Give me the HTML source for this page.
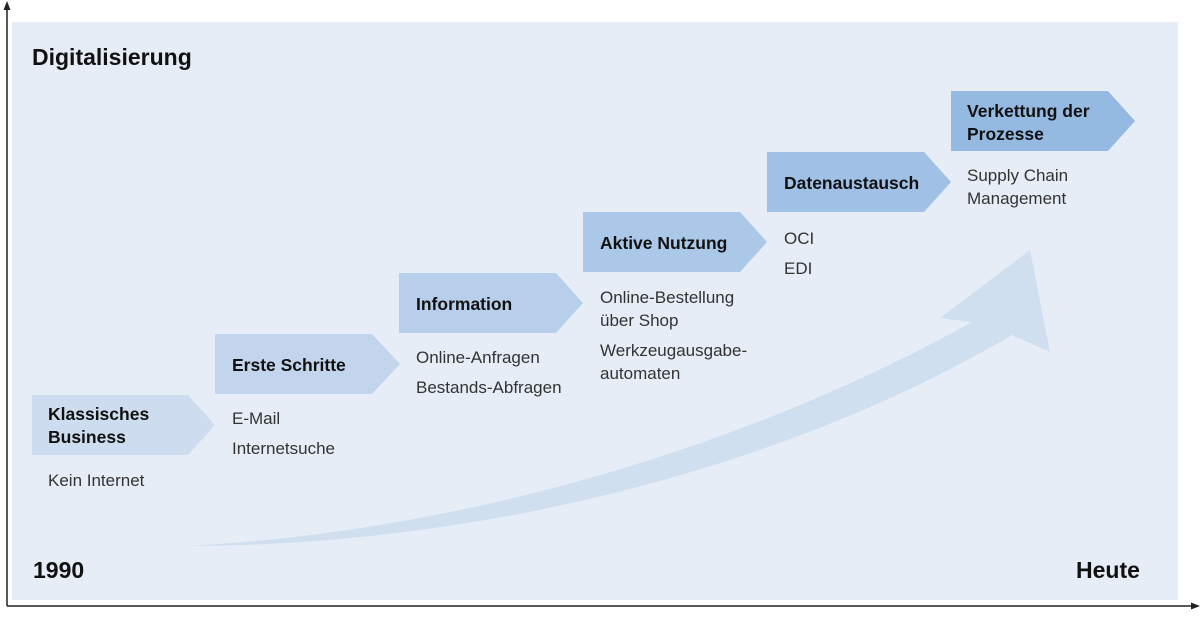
<!DOCTYPE html>
<html><head><meta charset="utf-8"><style>
html,body{margin:0;padding:0;background:#fff;}
svg{display:block;}
.t{font-family:"Liberation Sans",sans-serif;font-weight:bold;font-size:17.5px;fill:#111;}
.b{font-family:"Liberation Sans",sans-serif;font-size:17px;fill:#333;}
.h{font-family:"Liberation Sans",sans-serif;font-weight:bold;font-size:23px;fill:#111;}
</style></head><body>
<svg width="1200" height="623" viewBox="0 0 1200 623" xmlns="http://www.w3.org/2000/svg">
<rect x="12" y="22" width="1166" height="578" fill="#e6edf6"/>
<line x1="7" y1="6" x2="7" y2="606" stroke="#222" stroke-width="1.5"/>
<polygon points="7,1 3.5,10 10.5,10" fill="#222"/>
<line x1="7" y1="606" x2="1194" y2="606" stroke="#222" stroke-width="1.5"/>
<polygon points="1200,606 1191,602.5 1191,609.5" fill="#222"/>
<path d="M188,546 C500,545 800,460 1012,335 L1050,352 L1030,250 L940,318 L972,322 C760,440 480,530 188,546 Z" fill="#cfdff0"/>
<polygon points="32,395 188,395 215,425 188,455 32,455" fill="#cddcef"/>
<polygon points="215,334 372,334 400,364 372,394 215,394" fill="#c2d5ed"/>
<polygon points="399,273 556,273 583,303 556,333 399,333" fill="#b7cfeb"/>
<polygon points="583,212 740,212 767,242 740,272 583,272" fill="#abc8e8"/>
<polygon points="767,152 924,152 951,182 924,212 767,212" fill="#a0c1e5"/>
<polygon points="951,91 1108,91 1135,121 1108,151 951,151" fill="#95bae2"/>
<text class="h" x="32" y="65">Digitalisierung</text>
<text class="h" x="33" y="578">1990</text>
<text class="h" x="1076" y="578">Heute</text>
<text class="t" x="48" y="420">Klassisches</text>
<text class="t" x="48" y="443">Business</text>
<text class="t" x="232" y="371">Erste Schritte</text>
<text class="t" x="416" y="310">Information</text>
<text class="t" x="600" y="249">Aktive Nutzung</text>
<text class="t" x="784" y="189">Datenaustausch</text>
<text class="t" x="967" y="117">Verkettung der</text>
<text class="t" x="967" y="140">Prozesse</text>
<text class="b" x="48" y="486">Kein Internet</text>
<text class="b" x="232" y="424">E-Mail</text>
<text class="b" x="232" y="454">Internetsuche</text>
<text class="b" x="416" y="363">Online-Anfragen</text>
<text class="b" x="416" y="393">Bestands-Abfragen</text>
<text class="b" x="600" y="303">Online-Bestellung</text>
<text class="b" x="600" y="326">über Shop</text>
<text class="b" x="600" y="356">Werkzeugausgabe-</text>
<text class="b" x="600" y="379">automaten</text>
<text class="b" x="784" y="244">OCI</text>
<text class="b" x="784" y="274">EDI</text>
<text class="b" x="967" y="181">Supply Chain</text>
<text class="b" x="967" y="204">Management</text>
</svg>
</body></html>
